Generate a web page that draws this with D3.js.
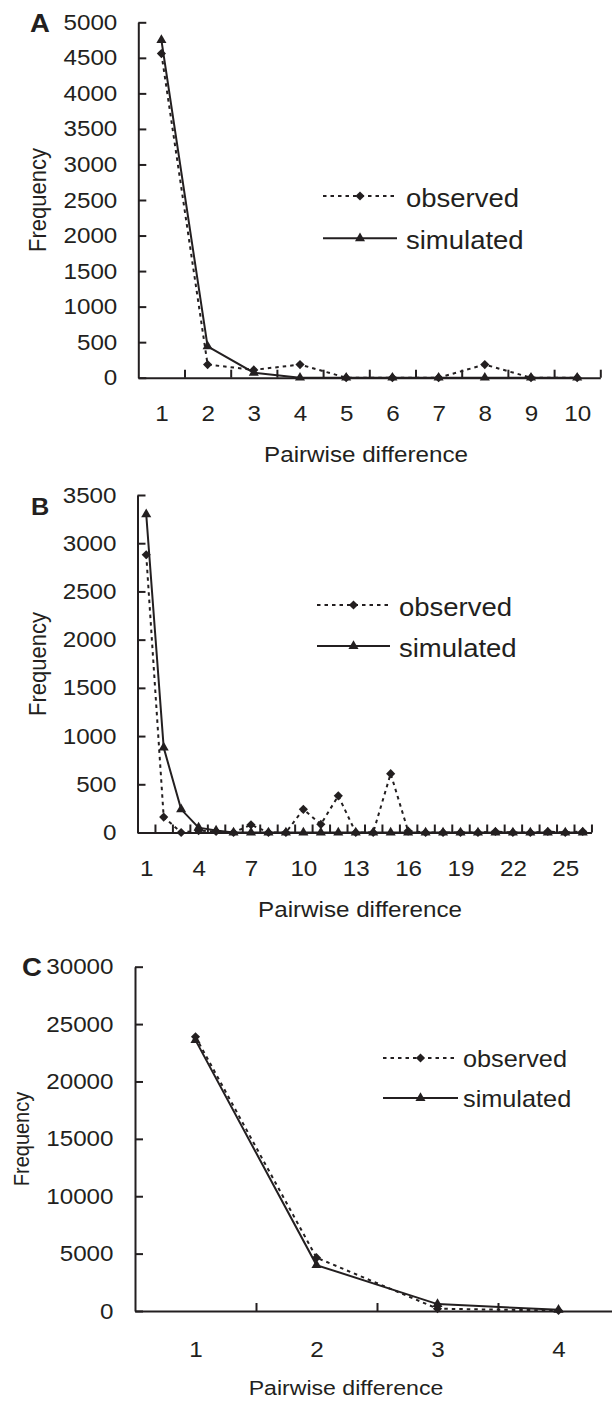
<!DOCTYPE html>
<html><head><meta charset="utf-8">
<script src="https://cdn.jsdelivr.net/npm/d3@7"></script>
<style>
body{margin:0;background:#fff;}
svg text{font-family:"Liberation Sans",Arial,Helvetica,sans-serif;fill:#231f20;}
</style></head><body>
<svg id="chart" width="612" height="1401"></svg>
<script>
// ---------- data ----------
const seriesNames = ["observed", "simulated"];
const panelLetters = ["A", "B", "C"];
const xTitle = "Pairwise difference";
const yTitle = "Frequency";

const aCategories = [1, 2, 3, 4, 5, 6, 7, 8, 9, 10];
const aObserved   = [4560, 185, 110, 185, 0, 0, 0, 185, 0, 0];
const aSimulated  = [4750, 440, 70, 0, 0, 0, 0, 0, 0, 0];
const aYTicks     = [0, 500, 1000, 1500, 2000, 2500, 3000, 3500, 4000, 4500, 5000];
const aXTickLabels = [1, 2, 3, 4, 5, 6, 7, 8, 9, 10];

const bCategories = [1, 2, 3, 4, 5, 6, 7, 8, 9, 10, 11, 12, 13, 14, 15, 16, 17, 18, 19, 20, 21, 22, 23, 24, 25, 26];
const bObserved   = [2880, 160, 0, 20, 10, 0, 80, 0, 0, 240, 85, 380, 0, 0, 610, 15, 0, 0, 0, 0, 10, 0, 0, 10, 0, 10];
const bSimulated  = [3300, 880, 240, 50, 20, 0, 0, 0, 0, 0, 0, 0, 0, 0, 0, 0, 0, 0, 0, 0, 0, 0, 0, 0, 0, 0];
const bYTicks     = [0, 500, 1000, 1500, 2000, 2500, 3000, 3500];
const bXTickLabels = [1, 4, 7, 10, 13, 16, 19, 22, 25];

const cCategories = [1, 2, 3, 4];
const cObserved   = [23900, 4650, 200, 40];
const cSimulated  = [23600, 4000, 600, 100];
const cYTicks     = [0, 5000, 10000, 15000, 20000, 25000, 30000];
const cXTickLabels = [1, 2, 3, 4];

// ---------- layout ----------
const INK = "#231f20";
const SX = 1.1; // horizontal stretch of the scanned figure text

const panels = [
  { letter: panelLetters[0], categories: aCategories, observed: aObserved, simulated: aSimulated,
    yTicks: aYTicks, xLabels: aXTickLabels, yMax: 5000,
    x0: 138.3, band: 46.2, y0: 377.7, y1: 22.3, yPad: 21, xPad: 28, tickFont: 22,
    letterPos: [30, 31.5], letterFont: 25,
    yTitlePos: [46, 200], yTitleFont: 22,
    xTitlePos: [366, 461.5], xTitleFont: 22,
    legend: { x1: 323, x2: 397, y1: 196, y2: 238.3, tx: 406, dy: 11, font: 25 } },
  { letter: panelLetters[1], categories: bCategories, observed: bObserved, simulated: bSimulated,
    yTicks: bYTicks, xLabels: bXTickLabels, yMax: 3500,
    x0: 137.5, band: 17.46, y0: 832.5, y1: 495, yPad: 21, xPad: 28, tickFont: 22,
    letterPos: [31, 515], letterFont: 23,
    yTitlePos: [46, 664], yTitleFont: 22,
    xTitlePos: [360, 917], xTitleFont: 22,
    legend: { x1: 317, x2: 390, y1: 605, y2: 646, tx: 399, dy: 10.5, font: 25 } },
  { letter: panelLetters[2], categories: cCategories, observed: cObserved, simulated: cSimulated,
    yTicks: cYTicks, xLabels: cXTickLabels, yMax: 30000,
    x0: 135, band: 121, y0: 1311, y1: 966.7, yPad: 21.5, xPad: 30, tickFont: 22,
    letterPos: [22, 976], letterFont: 25,
    yTitlePos: [29, 1139], yTitleFont: 20,
    xTitlePos: [346, 1395], xTitleFont: 21,
    legend: { x1: 383, x2: 458, y1: 1058, y2: 1098, tx: 463, dy: 9, font: 23 } }
];

const svg = d3.select("#chart");

function stretchText(sel) {
  sel.each(function () {
    const t = d3.select(this);
    const x = +t.attr("x") || 0;
    t.attr("x", x / SX).attr("transform", `scale(${SX},1)`);
  });
}

function marker(type, size) {
  return d3.symbol().type(type).size(size)();
}

function drawPanel(p) {
  const g = svg.append("g");
  const n = p.categories.length;
  const x = d3.scaleLinear().domain([0.5, n + 0.5]).range([p.x0, p.x0 + p.band * n]);
  const y = d3.scaleLinear().domain([0, p.yMax]).range([p.y0, p.y1]);

  // y axis (ticks pointing inward)
  const ya = g.append("g").attr("transform", `translate(${p.x0},0)`)
    .call(d3.axisLeft(y).tickValues(p.yTicks).tickSize(-8).tickSizeOuter(0)
      .tickPadding(p.yPad).tickFormat(d3.format("d")));
  ya.selectAll("text").style("font-size", p.tickFont + "px").attr("fill", INK).call(stretchText);

  // x axis: ticks at category boundaries, pointing inward
  const boundaries = p.categories.map(c => c + 0.5);
  g.append("g").attr("transform", `translate(0,${p.y0})`)
    .call(d3.axisBottom(x).tickValues(boundaries).tickSize(-8).tickSizeOuter(0).tickFormat(""));

  // x labels at category centres
  const xl = g.append("g").attr("transform", `translate(0,${p.y0})`)
    .call(d3.axisBottom(x).tickValues(p.xLabels).tickSize(0).tickPadding(p.xPad).tickFormat(d3.format("d")));
  xl.select(".domain").remove();
  xl.selectAll("text").style("font-size", p.tickFont + "px").attr("fill", INK).call(stretchText);

  g.selectAll(".domain, .tick line").attr("stroke", INK).attr("stroke-width", 2);

  // lines
  const line = d3.line().x((d, i) => x(p.categories[i])).y(d => y(d));
  g.append("path").datum(p.observed).attr("d", line).attr("fill", "none")
    .attr("stroke", INK).attr("stroke-width", 2).attr("stroke-dasharray", "3.5,4");
  g.append("path").datum(p.simulated).attr("d", line).attr("fill", "none")
    .attr("stroke", INK).attr("stroke-width", 2);

  // markers
  g.selectAll(".obs").data(p.observed).join("path")
    .attr("d", marker(d3.symbolSquare, 42))
    .attr("transform", (d, i) => `translate(${x(p.categories[i])},${y(d)}) rotate(45)`)
    .attr("fill", INK);
  g.selectAll(".sim").data(p.simulated).join("path")
    .attr("d", marker(d3.symbolTriangle, 44))
    .attr("transform", (d, i) => `translate(${x(p.categories[i])},${y(d)})`)
    .attr("fill", INK);

  // panel letter
  g.append("text").attr("transform", `translate(${p.letterPos[0]},${p.letterPos[1]}) scale(${SX},1)`)
    .style("font-size", p.letterFont + "px").style("font-weight", "bold").text(p.letter);

  // axis titles
  g.append("text").attr("transform", `translate(${p.xTitlePos[0]},${p.xTitlePos[1]}) scale(${SX},1)`)
    .attr("text-anchor", "middle").style("font-size", p.xTitleFont + "px").text(xTitle);
  g.append("text").attr("transform", `translate(${p.yTitlePos[0]},${p.yTitlePos[1]}) scale(${SX},1) rotate(-90)`)
    .attr("text-anchor", "middle").style("font-size", p.yTitleFont + "px").text(yTitle);

  // legend
  const L = p.legend;
  const lg = g.append("g");
  const mx = (L.x1 + L.x2) / 2;
  lg.append("line").attr("x1", L.x1).attr("x2", L.x2).attr("y1", L.y1).attr("y2", L.y1)
    .attr("stroke", INK).attr("stroke-width", 2).attr("stroke-dasharray", "3.5,4");
  lg.append("path").attr("d", marker(d3.symbolSquare, 42))
    .attr("transform", `translate(${mx},${L.y1}) rotate(45)`).attr("fill", INK);
  lg.append("line").attr("x1", L.x1).attr("x2", L.x2).attr("y1", L.y2).attr("y2", L.y2)
    .attr("stroke", INK).attr("stroke-width", 2);
  lg.append("path").attr("d", marker(d3.symbolTriangle, 44))
    .attr("transform", `translate(${mx},${L.y2})`).attr("fill", INK);
  [L.y1, L.y2].forEach((yy, i) => {
    lg.append("text").attr("transform", `translate(${L.tx},${yy + L.dy}) scale(${SX},1)`)
      .style("font-size", L.font + "px").text(seriesNames[i]);
  });
}

panels.forEach(drawPanel);
</script>
</body></html>
